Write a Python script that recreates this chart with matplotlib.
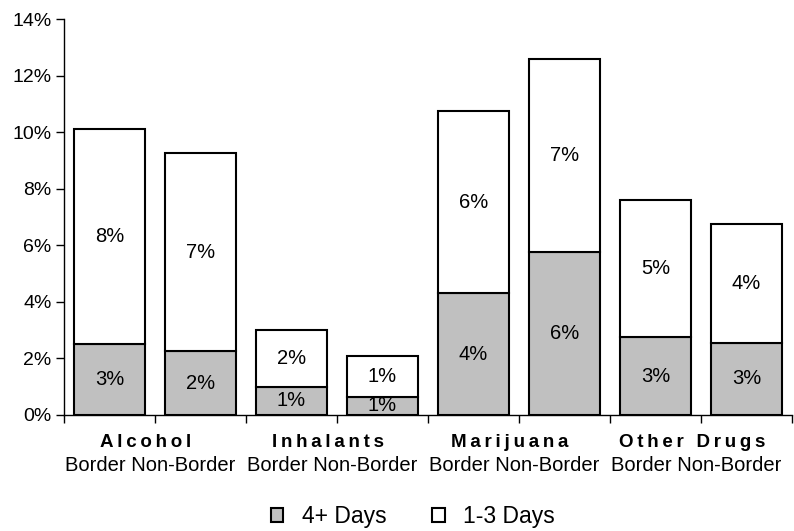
import matplotlib.pyplot as plt
from matplotlib.patches import Patch
from matplotlib.ticker import FuncFormatter

# data
categories = ['Alcohol', 'Inhalants', 'Marijuana', 'Other Drugs']
groups = ['Border', 'Non-Border']
days_4plus = [2.5, 2.25, 1.0, 0.65, 4.3, 5.75, 2.75, 2.55]
days_1to3 = [7.6, 7.0, 2.0, 1.45, 6.45, 6.85, 4.85, 4.2]
labels_4plus = ['3%', '2%', '1%', '1%', '4%', '6%', '3%', '3%']
labels_1to3 = ['8%', '7%', '2%', '1%', '6%', '7%', '5%', '4%']

plt.rcParams['font.family'] = ['Liberation Sans', 'DejaVu Sans']

fig = plt.figure(figsize=(7.94, 5.31), dpi=100)
ax = fig.add_axes([0.0806, 0.2185, 0.917, 0.7455])

x = list(range(len(days_4plus)))
ax.bar(x, days_4plus, width=0.78, color='#c0c0c0', edgecolor='black', linewidth=1.5)
ax.bar(x, days_1to3, width=0.78, bottom=days_4plus, color='white',
       edgecolor='black', linewidth=1.5)

for i in x:
    ax.text(i, days_4plus[i] / 2, labels_4plus[i], ha='center', va='center', fontsize=14.5)
    ax.text(i, days_4plus[i] + days_1to3[i] / 2, labels_1to3[i], ha='center', va='center',
            fontsize=14.5)

ax.set_xlim(-0.5, len(x) - 0.5)
ax.set_ylim(0, 14)
ax.set_yticks(range(0, 15, 2))
ax.yaxis.set_major_formatter(FuncFormatter(lambda v, p: f'{v:.0f}%'))
ax.tick_params(axis='y', labelsize=14, length=6, width=1, pad=3)

ax.set_xticks([i + 0.5 for i in range(-1, len(x))])
ax.set_xticklabels([])
ax.tick_params(axis='x', length=6, width=1)

for s in ['top', 'right']:
    ax.spines[s].set_visible(False)
for s in ['left', 'bottom']:
    ax.spines[s].set_linewidth(1)

# category and group labels under the axis
for g, cat in enumerate(categories):
    xc = 2 * g + 0.5
    spaced = '\u2009'.join(cat)
    ax.text(xc - 0.1, -0.99, spaced, ha='center', va='center', fontsize=13.5,
            fontweight='bold')
    ax.text(xc - 0.05, -1.77, ' '.join(groups), ha='center', va='center', fontsize=14.5)

handles = [Patch(facecolor='#c0c0c0', edgecolor='black', linewidth=1.5, label='4+ Days'),
           Patch(facecolor='white', edgecolor='black', linewidth=1.5, label='1-3 Days')]
fig.legend(handles=handles, loc='center', bbox_to_anchor=(0.52, 0.027), ncol=2,
           frameon=False, fontsize=16.5, handlelength=0.55, handleheight=0.55,
           handletextpad=0.8, columnspacing=2.0)

fig.savefig('out.png', dpi=100)
